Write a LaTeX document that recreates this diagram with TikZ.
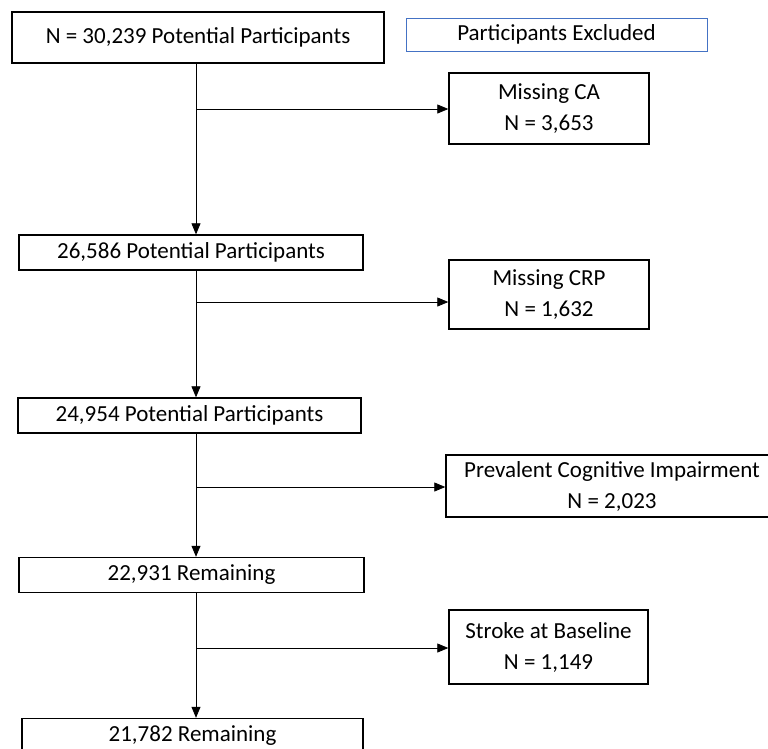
\documentclass[tikz,border=0pt]{standalone}
\usepackage{fontspec}
\setmainfont{Carlito}
\usetikzlibrary{positioning,arrows.meta}
\definecolor{officeblue}{RGB}{68,114,196}
\tikzstyle{stage} = [draw, rectangle, line width=1.4pt, inner sep=0pt, text centered, minimum height=35pt]
\tikzstyle{excluded} = [draw, rectangle, line width=1.4pt, inner sep=0pt, align=center, minimum width=200pt]
\tikzstyle{legend} = [draw=officeblue, rectangle, line width=1pt, inner sep=0pt, minimum width=301pt, minimum height=33pt]
\tikzstyle{line} = [draw, line width=0.8pt, -{Triangle[length=11pt,width=9pt]}]

\begin{document}
\begin{tikzpicture}[x=1pt, y=-1pt, font=\fontsize{23}{31}\selectfont]
    \useasboundingbox (0,0) rectangle (768,748);
    % Place nodes
    \node [stage, minimum width=372pt, minimum height=51pt] (start) at (198,37.5) {N = 30,239 Potential Participants};
    \node [legend] (legend) at (556.5,34.5) {Participants Excluded};
    \node [excluded, minimum height=71pt] (miss-ca) at (549,108.5) {Missing CA\\N = 3,653};
    \node [stage, minimum width=344pt] (pot-two) at (191,252.5) {26,586 Potential Participants};
    \node [excluded, minimum height=69pt] (miss-crp) at (549,294.5) {Missing CRP\\N = 1,632};
    \node [stage, minimum width=343pt] (pot-three) at (189.5,415.5) {24,954 Potential Participants};
    \node [excluded, minimum width=332pt, minimum height=62pt] (cog) at (612,486) {Prevalent Cognitive Impairment\\N = 2,023};
    \node [stage, minimum width=345pt] (rem-one) at (191.5,575) {22,931 Remaining};
    \node [excluded, minimum width=199pt, minimum height=74pt] (stroke) at (548.5,647) {Stroke at Baseline\\N = 1,149};
    \node [stage, minimum width=341pt] (rem-two) at (192.5,736) {21,782 Remaining};
    % Branch points on the trunk
    \coordinate (j1) at (196,109);
    \coordinate (j2) at (196,302);
    \coordinate (j3) at (196,487);
    \coordinate (j4) at (196,648);
    % Draw edges
    \path [line] (start.south -| j1) -- (pot-two.north -| j1);
    \path [line] (j1) -- (miss-ca.west |- j1);
    \path [line] (pot-two.south -| j2) -- (pot-three.north -| j2);
    \path [line] (j2) -- (miss-crp.west |- j2);
    \path [line] (pot-three.south -| j3) -- (rem-one.north -| j3);
    \path [line] (j3) -- (cog.west |- j3);
    \path [line] (rem-one.south -| j4) -- (rem-two.north -| j4);
    \path [line] (j4) -- (stroke.west |- j4);
\end{tikzpicture}
\end{document}
